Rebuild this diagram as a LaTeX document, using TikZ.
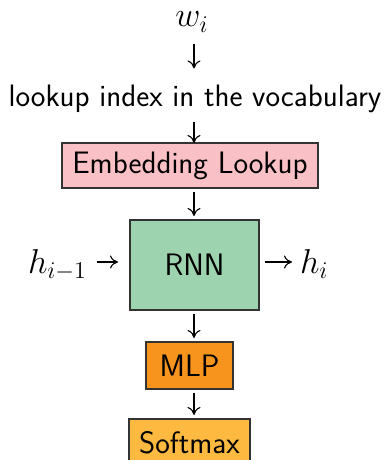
\documentclass[tikz,border=0pt]{standalone}
\usetikzlibrary{arrows.meta}
\definecolor{embfill}{HTML}{F9C1C5}
\definecolor{rnnfill}{HTML}{9DD3AE}
\definecolor{mlpfill}{HTML}{F7941E}
\definecolor{smfill}{HTML}{FDB940}
\begin{document}
\begin{tikzpicture}[x=0.5pt,y=-0.5pt,
  every node/.style={inner sep=0pt,outer sep=0pt},
  txt/.style={font=\fontsize{15.5}{18}\selectfont\sffamily},
  mth/.style={font=\fontsize{17}{20}\selectfont},
  block/.style={draw=black!80,line width=0.8pt,font=\fontsize{15.5}{18}\selectfont\sffamily},
  arr/.style={line width=0.55pt,-{Computer Modern Rightarrow[width=6.5pt,length=4pt]}}]
\useasboundingbox (0,0) rectangle (384,460);
\clip (0,0) rectangle (384,460);
\coordinate (axis) at (194,0);
% input word and index lookup
\node[mth,font=\fontsize{18}{21}\selectfont,anchor=base] (w) at (192,27) {$w_i$};
\node[txt,anchor=base] (lookup) at (195,106) {lookup index in the vocabulary};
% processing blocks
\node[block,fill=embfill,minimum width=128pt,minimum height=22.5pt] (emb) at (190,165.5) {Embedding Lookup};
\node[block,fill=rnnfill,minimum width=64.5pt,minimum height=45pt] (rnn) at (194.5,265) {RNN};
\node[block,fill=mlpfill,minimum width=43.5pt,minimum height=23.5pt] (mlp) at (189.5,365.5) {MLP};
\node[block,fill=smfill,minimum width=60.5pt,minimum height=23.5pt] (sm) at (189.5,442.5) {Softmax};
% hidden states
\node[mth,anchor=base west] (hprev) at (28,273) {$h_{i-1}$};
\node[mth,anchor=base west] (hnext) at (300,273) {$h_i$};
% connectors
\draw[arr,shorten <=6pt,shorten >=8pt] (w.south -| axis) -- (lookup.north -| axis);
\draw[arr,shorten <=5pt] (lookup.south -| axis) -- (emb.north -| axis);
\draw[arr,shorten <=2pt,shorten >=2pt] (emb.south -| axis) -- (rnn.north -| axis);
\draw[arr,shorten <=2pt,shorten >=2pt] (rnn.south -| axis) -- (mlp.north -| axis);
\draw[arr,shorten <=2pt,shorten >=2pt] (mlp.south -| axis) -- (sm.north -| axis);
\draw[arr,shorten <=5pt,shorten >=6pt] (hprev.east |- 0,262) -- (rnn.west |- 0,262);
\draw[arr,shorten <=3pt,shorten >=4pt] (rnn.east |- 0,262) -- (hnext.west |- 0,262);
\end{tikzpicture}
\end{document}
